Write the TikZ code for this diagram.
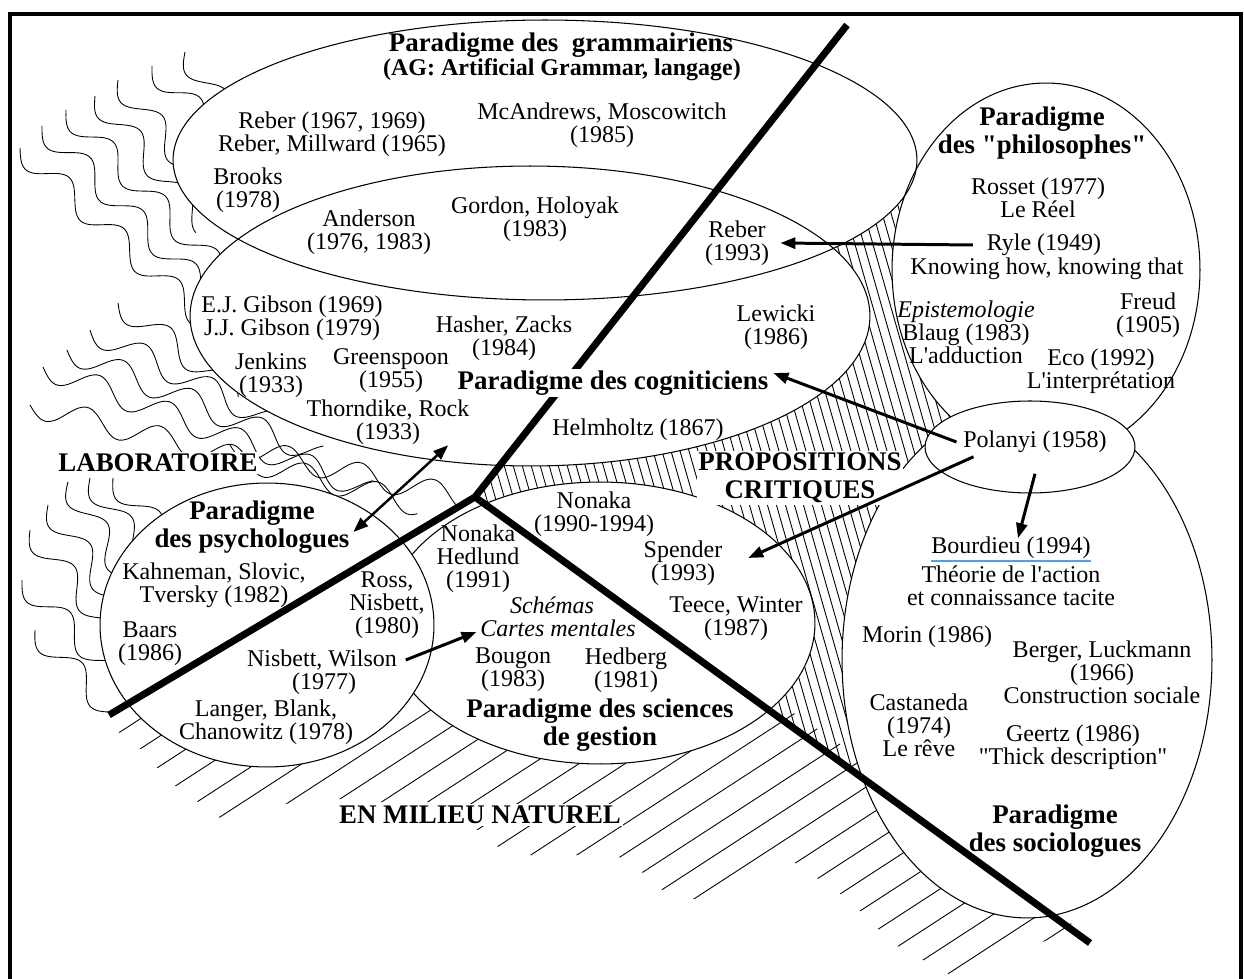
\documentclass[tikz,border=0pt]{standalone}
\usepackage{fontspec}
\setmainfont{Liberation Serif}[Ligatures=TeXOff]
\usetikzlibrary{arrows.meta}
\newcommand{\wv}[4]{%
 \pgfmathsetmacro{\wdx}{#3-#1}\pgfmathsetmacro{\wdy}{#4-#2}%
 \pgfmathsetmacro{\wL}{veclen(\wdx,\wdy)}%
 \draw[wavy] plot[domain=0:1,samples=60,smooth,variable=\t]
 ({#1+\t*\wdx-12*sin(\t*\wL/75*360)*\wdy/\wL},{#2+\t*\wdy+12*sin(\t*\wL/75*360)*\wdx/\wL});}
\begin{document}
\begin{tikzpicture}[x=0.02cm,y=-0.02cm,
  txt/.style={align=center, inner sep=2pt, font=\fontsize{13.66pt}{13.1pt}\selectfont},
  ttl/.style={align=center, inner sep=2pt, font=\fontsize{15.3pt}{15.9pt}\selectfont\bfseries},
  ttls/.style={align=center, inner sep=2pt, font=\fontsize{13.66pt}{14pt}\selectfont\bfseries},
  ell/.style={line width=0.6pt},
  wavy/.style={line width=0.5pt},
  hatch/.style={line width=0.5pt},
  bar/.style={line width=0.14cm, line join=miter},
  arr/.style={line width=1.7pt, -{Triangle[length=0.3cm,width=0.22cm]}},
  darr/.style={line width=1.4pt, {Triangle[length=0.3cm,width=0.22cm]}-{Triangle[length=0.3cm,width=0.22cm]}},
]
\useasboundingbox (0,0) rectangle (1244,979);
% frame
\draw[line width=0.08cm, line join=miter] (10,979) -- (10,14) -- (1241,14) -- (1241,979);

% wavy lines (laboratoire)
\begin{scope}
\clip (12,16) -- (845,24) -- (475,497) -- (109,715) -- (12,780) -- cycle;
% upper cluster
\wv{185}{52}{225}{110}
\wv{152}{66}{210}{125}
\wv{118}{80}{195}{175}
\wv{95}{96}{205}{225}
\wv{66}{110}{215}{265}
\wv{42}{126}{215}{300}
\wv{20}{148}{215}{330}
% middle cluster
\wv{118}{303}{240}{395}
\wv{90}{330}{270}{420}
\wv{67}{350}{320}{455}
\wv{43}{367}{370}{490}
\wv{30}{405}{420}{505}
\wv{230}{445}{470}{500}
% lower cluster
\wv{113}{478}{160}{530}
\wv{90}{478}{140}{550}
\wv{68}{482}{125}{575}
\wv{48}{505}{115}{600}
\wv{30}{530}{110}{630}
\wv{22}{580}{110}{670}
\wv{35}{630}{110}{710}
\end{scope}

% vertical hatch (propositions critiques)
\begin{scope}
\clip (475,497) -- (700,210) -- (880,222) -- (902,200) -- (960,260) -- (960,860) -- (1090,943) -- cycle;
\foreach \i in {0,...,80} \draw[hatch] (270+\i*9,150) -- ++(200,700);
\end{scope}

% diagonal hatch (milieu naturel)
\begin{scope}
\clip (109,715) -- (267,700) -- (411,700) -- (600,700) -- (777,702) -- (1000,850) -- (1090,943) -- (1060,935)
 -- (954,977) -- (892,943) -- (849,900) -- (785,856) -- (700,900) -- (668,895) -- (643,873) -- (616,855)
 -- (506,855) -- (486,835) -- (430,802) -- (372,802) -- (318,797) -- (220,818) -- (198,802) -- (170,782)
 -- (134,742) -- (115,730) -- cycle;
\foreach \c in {780,810,...,1700} \draw[hatch] (0,\c) -- (1244,\c-0.65*1244);
\end{scope}

% ellipses
\fill[white] (545,160) ellipse [x radius=7.44cm, y radius=2.8cm];
\fill[white] (530,316) ellipse [x radius=6.8cm, y radius=3.0cm];
\fill[white] (600,623) ellipse [x radius=4.3cm, y radius=2.82cm];
\fill[white] (1046,270) ellipse [x radius=3.08cm, y radius=3.74cm];
\fill[white] (1027,660) ellipse [x radius=3.7cm, y radius=5.16cm];
\draw[ell] (545,160) ellipse [x radius=7.44cm, y radius=2.8cm];
\draw[ell] (530,316) ellipse [x radius=6.8cm, y radius=3.0cm];
\draw[ell] (600,623) ellipse [x radius=4.3cm, y radius=2.82cm];
\draw[ell] (1046,270) ellipse [x radius=3.08cm, y radius=3.74cm];
\draw[ell] (1027,660) ellipse [x radius=3.7cm, y radius=5.16cm];
\draw[ell, fill=white] (267,625) ellipse [x radius=3.34cm, y radius=2.84cm];
\draw[ell, fill=white] (1030,447) ellipse [x radius=2.1cm, y radius=0.92cm];

% thick lines
\draw[bar] (109,715) -- (475,497) -- (847,25);
\draw[bar] (475,497) -- (1090,943);

% texts: grammairiens
\node[ttl] (tgram) at (561,45) {Paradigme des\ \ grammairiens};
\node[ttls] (tgram2) at (562,70) {(AG: Artificial Grammar, langage)};
\node[txt] (reber67) at (332,134) {Reber (1967, 1969)\\Reber, Millward (1965)};
\node[txt] (mcand) at (602,125) {McAndrews, Moscowitch\\(1985)};
\node[txt] (brooks) at (248,190) {Brooks\\(1978)};
\node[txt] (anders) at (369,232) {Anderson\\(1976, 1983)};
\node[txt] (gordon) at (535,219) {Gordon, Holoyak\\(1983)};
\node[txt] (reber93) at (737,243) {Reber\\(1993)};
% cogniticiens
\node[txt] (gibson) at (292,318) {E.J. Gibson (1969)\\J.J. Gibson (1979)};
\node[txt] (jenkins) at (271,375) {Jenkins\\(1933)};
\node[txt] (greens) at (391,371) {Greenspoon\\(1955)};
\node[txt] (hasher) at (504,338) {Hasher, Zacks\\(1984)};
\node[txt] (thorn) at (388,422) {Thorndike, Rock\\(1933)};
\node[txt] (lewicki) at (776,327) {Lewicki\\(1986)};
\node[ttl, fill=white, inner sep=1pt] (tcog) at (613,383) {Paradigme des cogniticiens};
\node[txt] (helm) at (638,430) {Helmholtz (1867)};
% philosophes
\node[ttl] (tphilo) at (1042,133) {Paradigme\\des "philosophes"};
\node[txt] (rosset) at (1038,198) {Rosset (1977)\\Le Réel};
\node[txt] (ryle) at (1044,245) {Ryle (1949)};
\node[txt] (knowing) at (1047,269) {Knowing how, knowing that};
\node[txt] (blaug) at (966,332) {\textit{Epistemologie}\\Blaug (1983)\\L'adduction};
\node[txt] (freud) at (1148,315) {Freud\\(1905)};
\node[txt] (eco) at (1101,371) {Eco (1992)\\L'interprétation};
\node[txt] (polanyi) at (1035,442) {Polanyi (1958)};
% sociologues
\node[txt] (bourdieu) at (1011,548) {Bourdieu (1994)};
\draw[line width=1.2pt, color={rgb,255:red,80;green,160;blue,235}] (bourdieu.south west) ++(2pt,1pt) -- ([xshift=-2pt,yshift=1pt]bourdieu.south east);
\node[txt] (theorie) at (1011,586) {Théorie de l'action\\et connaissance tacite};
\node[txt] (morin) at (927,637) {Morin (1986)};
\node[txt] (berger) at (1102,672) {Berger, Luckmann\\(1966)\\Construction sociale};
\node[txt] (castan) at (919,725) {Castaneda\\(1974)\\Le rêve};
\node[txt] (geertz) at (1073,747) {Geertz (1986)\\"Thick description"};
\node[ttl] (tsocio) at (1055,831) {Paradigme\\des sociologues};
% psychologues
\node[ttl] (tpsy) at (252,527) {Paradigme\\des psychologues};
\node[txt] (kahn) at (214,585) {Kahneman, Slovic,\\Tversky (1982)};
\node[txt] (baars) at (150,644) {Baars\\(1986)};
\node[txt] (ross) at (387,605) {Ross,\\Nisbett,\\(1980)};
\node[txt] (nisw) at (322,660) {Nisbett, Wilson};
\node[txt] (nisw2) at (324,684) {(1977)};
\node[txt] (langer) at (266,722) {Langer, Blank,\\Chanowitz (1978)};
% gestion
\node[txt] (nonaka) at (594,514) {Nonaka\\(1990-1994)};
\node[txt] (nonhed) at (478,559) {Nonaka\\Hedlund\\(1991)};
\node[txt] (spender) at (683,563) {Spender\\(1993)};
\node[txt] (schemas) at (552,605) {\textit{Schémas}};
\node[txt] (cartes) at (558,628) {\textit{Cartes mentales}};
\node[txt] (teece) at (736,619) {Teece, Winter\\(1987)};
\node[txt] (bougon) at (513,670) {Bougon\\(1983)};
\node[txt] (hedberg) at (626,670) {Hedberg\\(1981)};
\node[ttl] (tgest) at (600,725) {Paradigme des sciences\\de gestion};
% region labels
\node[ttl, fill=white, inner sep=1pt] (lab) at (158,463) {LABORATOIRE};
\node[ttl, fill=white, inner sep=1pt] (prop) at (800,478) {PROPOSITIONS\\CRITIQUES};
\node[ttl, fill=white, inner sep=1pt] (nat) at (480,815) {EN MILIEU NATUREL};

% arrows
\draw[arr] ([xshift=-0.2cm]ryle.west) -- ([xshift=0.15cm]reber93.east);
\draw[arr] ([xshift=-0.06cm]polanyi.west) -- ([yshift=0.2cm, xshift=0.06cm]tcog.east);
\draw[arr] ([xshift=0.28cm]polanyi.south west) -- ([xshift=0.44cm, yshift=0.1cm]spender.east);
\draw[arr] ([yshift=-0.34cm]polanyi.south) -- ([xshift=0.14cm, yshift=-0.1cm]bourdieu.north);
\draw[darr] ([yshift=-0.1cm]tpsy.east) -- ([xshift=-0.5cm, yshift=0.06cm]thorn.south east);
\draw[arr] ([xshift=0.1cm]nisw.east) -- ([yshift=-0.08cm]cartes.west);
\end{tikzpicture}
\end{document}
